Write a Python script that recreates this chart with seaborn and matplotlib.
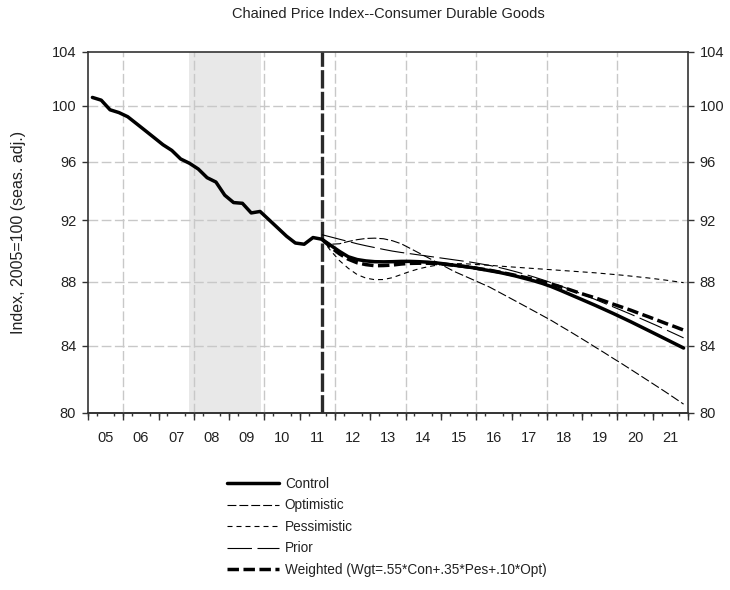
import numpy as np
import pandas as pd
import matplotlib
matplotlib.use("Agg")
import matplotlib.pyplot as plt
import seaborn as sns
from matplotlib.ticker import FixedLocator, NullLocator, FuncFormatter

# ---------------- data ----------------
title = "Chained Price Index--Consumer Durable Goods"
ylabel = "Index, 2005=100 (seas. adj.)"
year_labels = ["05", "06", "07", "08", "09", "10", "11", "12", "13", "14",
               "15", "16", "17", "18", "19", "20", "21"]
y_ticks = [80, 84, 88, 92, 96, 100, 104]

hist_quarters = pd.period_range("2005Q1", "2011Q2", freq="Q")
fcst_quarters = pd.period_range("2011Q3", "2021Q4", freq="Q")

control_hist = [100.6, 100.4, 99.7, 99.5, 99.2, 98.7, 98.2, 97.7,
                97.2, 96.8, 96.2, 95.9, 95.5, 94.9, 94.6, 93.7,
                93.2, 93.15, 92.5, 92.6, 92.05, 91.5, 90.95, 90.5,
                90.42, 90.86]

control_fcst = [90.75, 90.35, 89.95, 89.6, 89.42, 89.33, 89.28, 89.27,
                89.28, 89.3, 89.3, 89.28, 89.25, 89.2, 89.13, 89.05,
                88.98, 88.9, 88.8, 88.7, 88.6, 88.48, 88.35, 88.2,
                88.05, 87.88, 87.68, 87.45, 87.21, 86.97, 86.73, 86.49,
                86.24, 85.99, 85.73, 85.47, 85.2, 84.93, 84.66, 84.39,
                84.12, 83.85]

optimistic = [90.75, 90.42, 90.45, 90.6, 90.72, 90.8, 90.82, 90.78,
              90.65, 90.45, 90.15, 89.85, 89.55, 89.25, 88.95, 88.65,
              88.4, 88.15, 87.9, 87.65, 87.35, 87.05, 86.75, 86.45,
              86.15, 85.85, 85.55, 85.22, 84.9, 84.57, 84.24, 83.9,
              83.57, 83.23, 82.9, 82.56, 82.22, 81.88, 81.54, 81.2,
              80.85, 80.5]

pessimistic = [90.75, 90.0, 89.35, 88.85, 88.45, 88.22, 88.12, 88.13,
               88.25, 88.45, 88.65, 88.82, 88.95, 89.05, 89.12, 89.15,
               89.15, 89.12, 89.08, 89.05, 89.0, 88.96, 88.92, 88.88,
               88.84, 88.8, 88.76, 88.72, 88.68, 88.64, 88.6, 88.56,
               88.51, 88.46, 88.41, 88.35, 88.29, 88.23, 88.16, 88.09,
               88.01, 87.93]

prior = [91.05, 90.9, 90.75, 90.6, 90.45, 90.32, 90.2, 90.08,
         89.97, 89.88, 89.8, 89.72, 89.64, 89.56, 89.48, 89.4,
         89.32, 89.24, 89.14, 89.04, 88.92, 88.78, 88.63, 88.47,
         88.3, 88.12, 87.93, 87.73, 87.52, 87.31, 87.09, 86.86,
         86.63, 86.4, 86.17, 85.94, 85.7, 85.46, 85.22, 84.97,
         84.72, 84.47]

weighted = [90.75, 90.23, 89.79, 89.44, 89.21, 89.09, 89.02, 89.03,
            89.06, 89.13, 89.17, 89.18, 89.18, 89.16, 89.11, 89.05,
            88.98, 88.91, 88.81, 88.73, 88.62, 88.51, 88.39, 88.27,
            88.14, 88.0, 87.85, 87.67, 87.5, 87.31, 87.13, 86.96,
            86.77, 86.57, 86.38, 86.19, 85.98, 85.78, 85.57, 85.36,
            85.16, 84.95]

series_labels = ["Control", "Optimistic", "Pessimistic", "Prior",
                 "Weighted (Wgt=.55*Con+.35*Pes+.10*Opt)"]

recession = (2007.87, 2009.9)
forecast_start = 2011.62
first_year, last_year = 2005, 2022


def to_decimal(periods):
    return np.array([p.year + (p.quarter - 0.5) / 4.0 for p in periods])


x_hist = to_decimal(hist_quarters)
x_fcst = to_decimal(fcst_quarters)
x_ctrl = np.concatenate([x_hist, x_fcst])
y_ctrl = np.array(control_hist + control_fcst)

# ---------------- style ----------------
sns.set_theme(style="white")
plt.rcParams["font.family"] = ["Liberation Sans", "DejaVu Sans"]
plt.rcParams["axes.unicode_minus"] = False

fig = plt.figure(figsize=(7.3, 5.9), dpi=100)
ax = fig.add_axes([88 / 730, 1 - 412.7 / 590, 600 / 730, (412.7 - 51.7) / 590])
ax.set_yscale("log")

grid_color = "#c8c8c8"
grid_ls = (0, (7, 2.5))
ax.axvspan(recession[0], recession[1], color="#e8e8e8", lw=0, zorder=0)
for v in y_ticks[1:-1]:
    ax.axhline(v, color=grid_color, lw=1.0, ls=grid_ls, zorder=1)
for yr in range(2006, 2021, 2):
    ax.axvline(yr, color=grid_color, lw=1.0, ls=grid_ls, zorder=1)

ax.axvline(forecast_start, color="#2a2a2a", lw=2.4, ls=(0, (5.5, 1.0)), zorder=4)

sns.lineplot(x=x_ctrl, y=y_ctrl, ax=ax, color="black", lw=2.5,
             label=series_labels[0], zorder=6)
sns.lineplot(x=x_fcst, y=optimistic, ax=ax, color="black", lw=0.8,
             ls=(0, (8, 2.7)), label=series_labels[1], zorder=5)
sns.lineplot(x=x_fcst, y=pessimistic, ax=ax, color="black", lw=0.8,
             ls=(0, (4.5, 3.6)), label=series_labels[2], zorder=5)
sns.lineplot(x=x_fcst, y=prior, ax=ax, color="black", lw=0.8,
             ls=(0, (22, 5)), label=series_labels[3], zorder=5)
sns.lineplot(x=x_fcst, y=weighted, ax=ax, color="black", lw=2.5,
             ls=(0, (3.3, 1.3)), label=series_labels[4], zorder=7)

handles, labels = ax.get_legend_handles_labels()
ax.get_legend().remove()

ax.set_xlim(first_year, last_year)
ax.set_ylim(y_ticks[0], y_ticks[-1])

# y axis ticks both sides
ax.yaxis.set_major_locator(FixedLocator(y_ticks))
ax.yaxis.set_minor_locator(NullLocator())
ax.yaxis.set_major_formatter(FuncFormatter(lambda v, p: f"{v:.0f}"))
ax.tick_params(axis="y", which="major", left=True, right=True,
               labelleft=True, labelright=True, length=4.5, width=1,
               color="#333333", direction="out", labelsize=10.5,
               labelcolor="#222222", pad=4)

# x axis: labels at mid-year, quarter minor ticks, year major ticks via secondary axis
mid_years = [first_year + i + 0.5 for i in range(len(year_labels))]
ax.set_xticks(mid_years)
ax.set_xticklabels(year_labels)
quarter_ticks = [first_year + i / 4.0 for i in range(0, (last_year - first_year) * 4 + 1)]
ax.set_xticks(quarter_ticks, minor=True)
ax.tick_params(axis="x", which="major", length=0, labelsize=10.5,
               labelcolor="#222222", pad=13)
ax.tick_params(axis="x", which="minor", bottom=True, length=2.5, width=1,
               color="#333333", direction="out")
sec = ax.secondary_xaxis("bottom")
sec.set_xticks(list(range(first_year, last_year + 1)))
sec.tick_params(axis="x", length=5, width=1, color="#333333",
                direction="out", labelbottom=False)
sec.spines["bottom"].set_color("#333333")
sec.spines["bottom"].set_linewidth(1.2)

for s in ax.spines.values():
    s.set_visible(True)
    s.set_color("#333333")
    s.set_linewidth(1.2)

ax.set_ylabel(ylabel, fontsize=11.5, color="#222222")
ax.yaxis.set_label_coords((26 - 88) / 600, 0.5)

fig.text(388 / 730, 1 - 14 / 590, title, ha="center", va="center",
         fontsize=10.5, color="#222222")

fig.legend(handles, labels, loc="upper left",
           bbox_to_anchor=(227 / 730, 1 - 477 / 590),
           frameon=False, fontsize=9.8, handlelength=3.8,
           handletextpad=0.45, labelspacing=0.55, borderpad=0,
           borderaxespad=0, labelcolor="#222222")

fig.savefig("out.png", dpi=100)
